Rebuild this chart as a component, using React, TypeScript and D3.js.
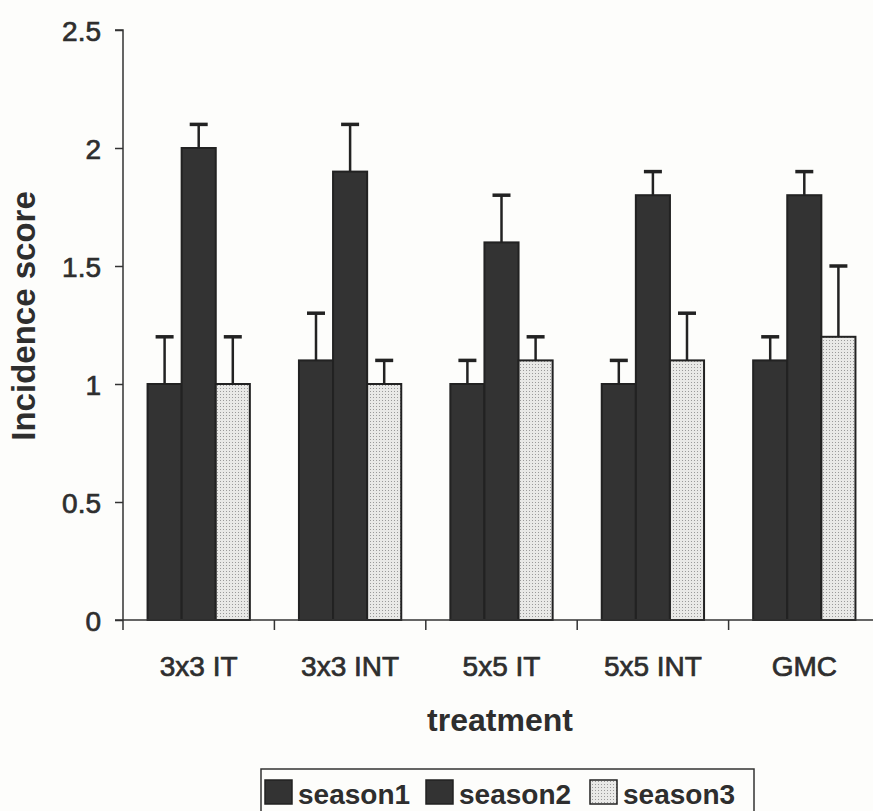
import React, { useEffect, useRef } from 'react';
import * as d3 from 'd3';

const treatments = ['3x3 IT', '3x3 INT', '5x5 IT', '5x5 INT', 'GMC'];
const seasons = ['season1', 'season2', 'season3'];
const season1 = [1.0, 1.1, 1.0, 1.0, 1.1];
const season2 = [2.0, 1.9, 1.6, 1.8, 1.8];
const season3 = [1.0, 1.0, 1.1, 1.1, 1.2];
const season1Err = [0.2, 0.2, 0.1, 0.1, 0.1];
const season2Err = [0.1, 0.2, 0.2, 0.1, 0.1];
const season3Err = [0.2, 0.1, 0.1, 0.2, 0.3];
const yTicks = [0, 0.5, 1, 1.5, 2, 2.5];

const FONT = '"Liberation Sans", Arial, Helvetica, sans-serif';

export default function App() {
  const svgRef = useRef<SVGSVGElement>(null);

  useEffect(() => {
    if (!svgRef.current) return;
    const width = 873;
    const height = 811;
    const svg = d3.select(svgRef.current);
    svg.selectAll('*').remove();
    svg.attr('width', width).attr('height', height);

    svg.append('rect').attr('width', width).attr('height', height).attr('fill', '#fdfdfb');

    // dotted fill for season3
    const defs = svg.append('defs');
    const pat = defs.append('pattern')
      .attr('id', 'dots')
      .attr('width', 3)
      .attr('height', 3)
      .attr('patternUnits', 'userSpaceOnUse');
    pat.append('rect').attr('width', 3).attr('height', 3).attr('fill', '#e9e9e7');
    pat.append('rect').attr('x', 1).attr('y', 1).attr('width', 1).attr('height', 1).attr('fill', '#9a9a9a');

    const colors: Record<string, string> = {
      season1: '#333333',
      season2: '#333333',
      season3: 'url(#dots)',
    };

    const left = 123;
    const bottom = 620;
    const y = d3.scaleLinear().domain([0, 2.5]).range([bottom, 30]);
    const x0 = d3.scaleBand().domain(treatments).range([left, 880]).paddingInner(0).paddingOuter(0);
    const x1 = d3.scaleBand().domain(seasons).range([0, x0.bandwidth()]).paddingInner(0).paddingOuter(0.72);

    const values = [season1, season2, season3];
    const errs = [season1Err, season2Err, season3Err];
    const rows = treatments.flatMap((t, i) =>
      seasons.map((s, j) => ({ t, s, v: values[j][i], e: errs[j][i] }))
    );

    const g = svg.append('g');

    // bars
    g.selectAll('.bar')
      .data(rows)
      .enter()
      .append('rect')
      .attr('x', d => (x0(d.t) as number) + (x1(d.s) as number))
      .attr('y', d => y(d.v))
      .attr('width', x1.bandwidth())
      .attr('height', d => y(0) - y(d.v))
      .attr('fill', d => colors[d.s])
      .attr('stroke', '#222')
      .attr('stroke-width', 2);

    // error bars (upper only)
    const cx = (d: any) => (x0(d.t) as number) + (x1(d.s) as number) + x1.bandwidth() / 2;
    g.selectAll('.err')
      .data(rows)
      .enter()
      .append('line')
      .attr('x1', cx)
      .attr('x2', cx)
      .attr('y1', d => y(d.v))
      .attr('y2', d => y(d.v + d.e))
      .attr('stroke', '#222')
      .attr('stroke-width', 2.5);
    g.selectAll('.cap')
      .data(rows)
      .enter()
      .append('line')
      .attr('x1', d => cx(d) - 9)
      .attr('x2', d => cx(d) + 9)
      .attr('y1', d => y(d.v + d.e))
      .attr('y2', d => y(d.v + d.e))
      .attr('stroke', '#222')
      .attr('stroke-width', 3.5);

    // y axis
    const yAxis = g.append('g')
      .attr('transform', `translate(${left},0)`)
      .call(d3.axisLeft(y).tickValues(yTicks).tickSize(8).tickPadding(14).tickFormat(d => d3.format('')(d as number)));
    yAxis.select('.domain').attr('stroke', '#333').attr('stroke-width', 1.5).attr('d', `M-8,${y(2.5)}H0V${bottom}`);
    yAxis.selectAll('.tick line').attr('stroke', '#333').attr('stroke-width', 1.5);
    yAxis.selectAll('.tick text')
      .attr('font-family', FONT)
      .attr('font-size', 28)
      .attr('fill', '#2e2e2e')
      .attr('stroke', '#2e2e2e')
      .attr('stroke-width', 0.7)
      .attr('dy', '0.36em');

    // x axis
    const xAxis = g.append('g')
      .attr('transform', `translate(0,${bottom})`)
      .call(d3.axisBottom(x0).tickSize(0).tickPadding(36));
    xAxis.select('.domain').attr('stroke', '#333').attr('stroke-width', 1.5).attr('d', `M${left - 8},0H${width}`);
    xAxis.selectAll('.tick text')
      .attr('font-family', FONT)
      .attr('font-size', 28)
      .attr('fill', '#2e2e2e')
      .attr('stroke', '#2e2e2e')
      .attr('stroke-width', 0.7);
    // category boundary ticks
    g.selectAll('.xb')
      .data(treatments)
      .enter()
      .append('line')
      .attr('x1', d => x0(d) as number)
      .attr('x2', d => x0(d) as number)
      .attr('y1', bottom)
      .attr('y2', bottom + 10)
      .attr('stroke', '#333')
      .attr('stroke-width', 1.5);

    // axis titles
    svg.append('text')
      .attr('transform', `translate(35,316) rotate(-90)`)
      .attr('text-anchor', 'middle')
      .attr('font-family', FONT)
      .attr('font-weight', 'bold')
      .attr('font-size', 33)
      .attr('fill', '#2e2e2e')
      .text('Incidence score');
    svg.append('text')
      .attr('x', 500)
      .attr('y', 731)
      .attr('text-anchor', 'middle')
      .attr('font-family', FONT)
      .attr('font-weight', 'bold')
      .attr('font-size', 32)
      .attr('fill', '#2e2e2e')
      .text('treatment');

    // legend
    const lg = svg.append('g');
    lg.append('rect')
      .attr('x', 261)
      .attr('y', 769)
      .attr('width', 493)
      .attr('height', 60)
      .attr('fill', 'none')
      .attr('stroke', '#333')
      .attr('stroke-width', 1.5);
    const legendX = [265, 426, 590];
    seasons.forEach((s, i) => {
      lg.append('rect')
        .attr('x', legendX[i])
        .attr('y', 780)
        .attr('width', 27)
        .attr('height', 24)
        .attr('fill', colors[s])
        .attr('stroke', '#222')
        .attr('stroke-width', 1.5);
      lg.append('text')
        .attr('x', legendX[i] + 33)
        .attr('y', 804)
        .attr('font-family', FONT)
        .attr('font-weight', 'bold')
        .attr('font-size', 28)
        .attr('fill', '#2e2e2e')
        .text(s);
    });
  }, []);

  return (
    <svg ref={svgRef} style={{ position: 'absolute', left: 0, top: 0 }}></svg>
  );
}
